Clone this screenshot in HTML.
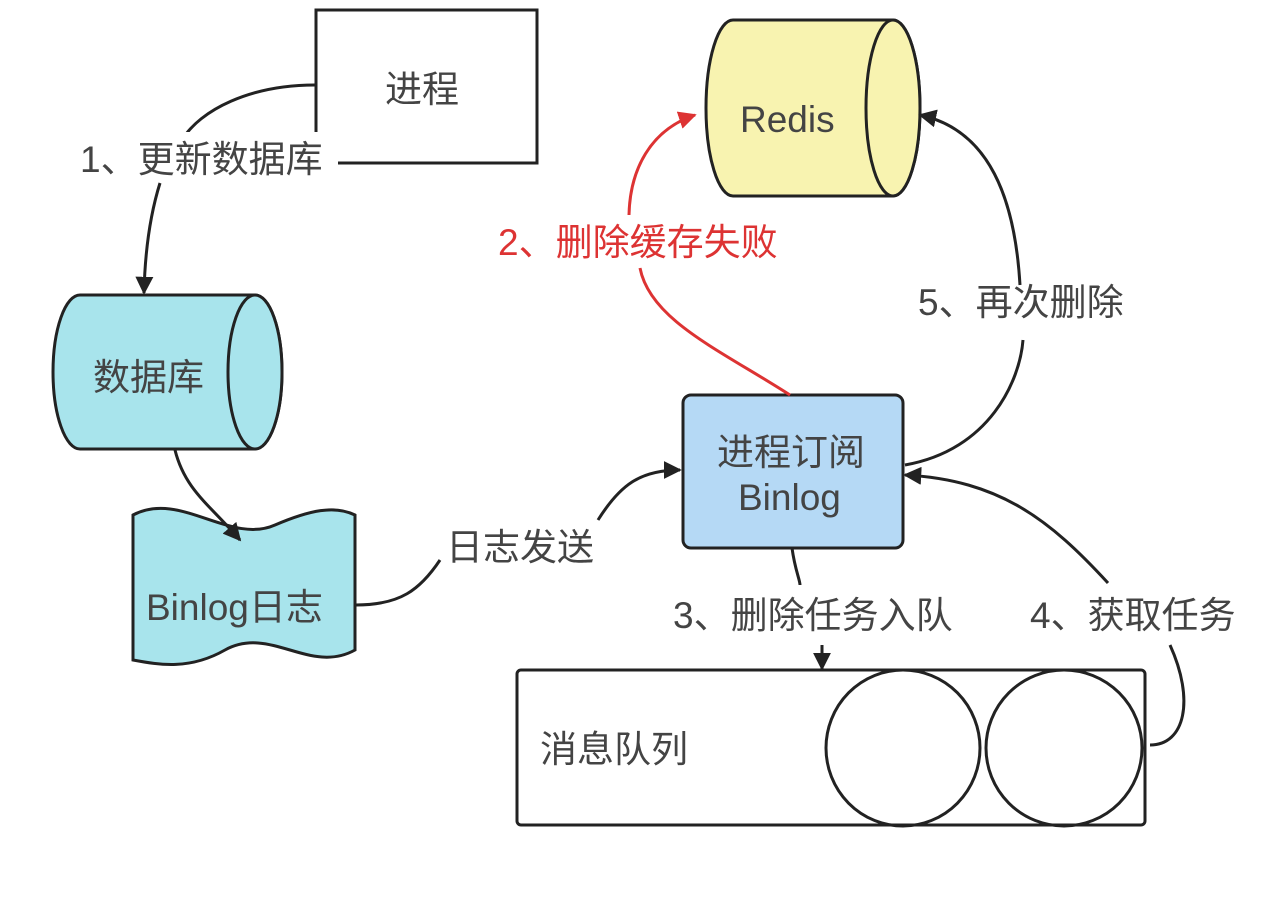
<!DOCTYPE html>
<html><head><meta charset="utf-8"><style>
body{margin:0;background:#fff}
text{font-family:"Liberation Sans","Noto Sans CJK SC",sans-serif;font-size:37px;fill:#444}
</style></head><body>
<svg width="1281" height="892" viewBox="0 0 1281 892" xmlns="http://www.w3.org/2000/svg">
<defs>
<marker id="ab" viewBox="0 0 10 10" refX="9" refY="5" markerWidth="18" markerHeight="18" markerUnits="userSpaceOnUse" orient="auto"><path d="M0,0L10,5L0,10z" fill="#222"/></marker>
<marker id="ar" viewBox="0 0 10 10" refX="9" refY="5" markerWidth="18" markerHeight="18" markerUnits="userSpaceOnUse" orient="auto"><path d="M0,0L10,5L0,10z" fill="#d33"/></marker>
</defs>
<g stroke="#222" stroke-width="3" fill="none">
<rect x="316" y="10" width="221" height="153" fill="#fff"/>
<path d="M80,295 H255 A27,77 0 0 1 255,449 H80 A27,77 0 0 1 80,295Z" fill="#a8e4ec"/>
<ellipse cx="255" cy="372" rx="27" ry="77" fill="#a8e4ec"/>
<path d="M133,515 C180,490 230,545 275,525 C310,510 335,505 355,515 V650 C310,675 270,625 225,650 C190,670 160,665 133,660Z" fill="#a8e4ec"/>
<path d="M733,20 H893 A27,88 0 0 1 893,196 H733 A27,88 0 0 1 733,20Z" fill="#f8f3b0"/>
<ellipse cx="893" cy="108" rx="27" ry="88" fill="#f8f3b0"/>
<rect x="683" y="395" width="220" height="153" rx="8" fill="#b5d9f5"/>
<rect x="517" y="670" width="628" height="155" rx="4" fill="#fff"/>
<ellipse cx="903" cy="748" rx="77" ry="78"/>
<ellipse cx="1064" cy="748" rx="78" ry="78"/>
<path d="M315,85 C250,85 200,110 182,140" />
<path d="M160,183 C150,215 145,250 144,293" marker-end="url(#ab)"/>
<path d="M175,450 C185,490 210,505 240,540" marker-end="url(#ab)"/>
<path d="M356,605 C400,605 420,590 440,560"/>
<path d="M598,520 C620,485 640,470 680,470" marker-end="url(#ab)"/>
<path d="M790,395 C720,350 650,320 640,268" stroke="#d33"/>
<path d="M629,215 C630,170 650,130 695,115" stroke="#d33" marker-end="url(#ar)"/>
<path d="M905,465 C990,450 1020,380 1023,340"/>
<path d="M1020,285 C1015,200 990,130 920,115" marker-end="url(#ab)"/>
<path d="M1150,745 C1185,745 1195,700 1170,645"/>
<path d="M1108,583 C1050,520 1000,480 905,475" marker-end="url(#ab)"/>
<path d="M792,548 C795,570 800,580 800,585"/>
<path d="M822,645 L822,669" marker-end="url(#ab)"/>
</g>
<rect x="78" y="132" width="260" height="48" fill="#fff"/>
<text x="385" y="102">进程</text>
<text x="80" y="172">1、更新数据库</text>
<text x="93" y="390">数据库</text>
<text x="146" y="620">Binlog日志</text>
<text x="446" y="560">日志发送</text>
<text x="740" y="132">Redis</text>
<text x="498" y="255" style="fill:#d33">2、删除缓存失败</text>
<text x="918" y="315">5、再次删除</text>
<text x="717" y="465">进程订阅</text>
<text x="738" y="510">Binlog</text>
<text x="673" y="628">3、删除任务入队</text>
<text x="1030" y="628">4、获取任务</text>
<text x="540" y="762">消息队列</text>
</svg>
</body></html>
